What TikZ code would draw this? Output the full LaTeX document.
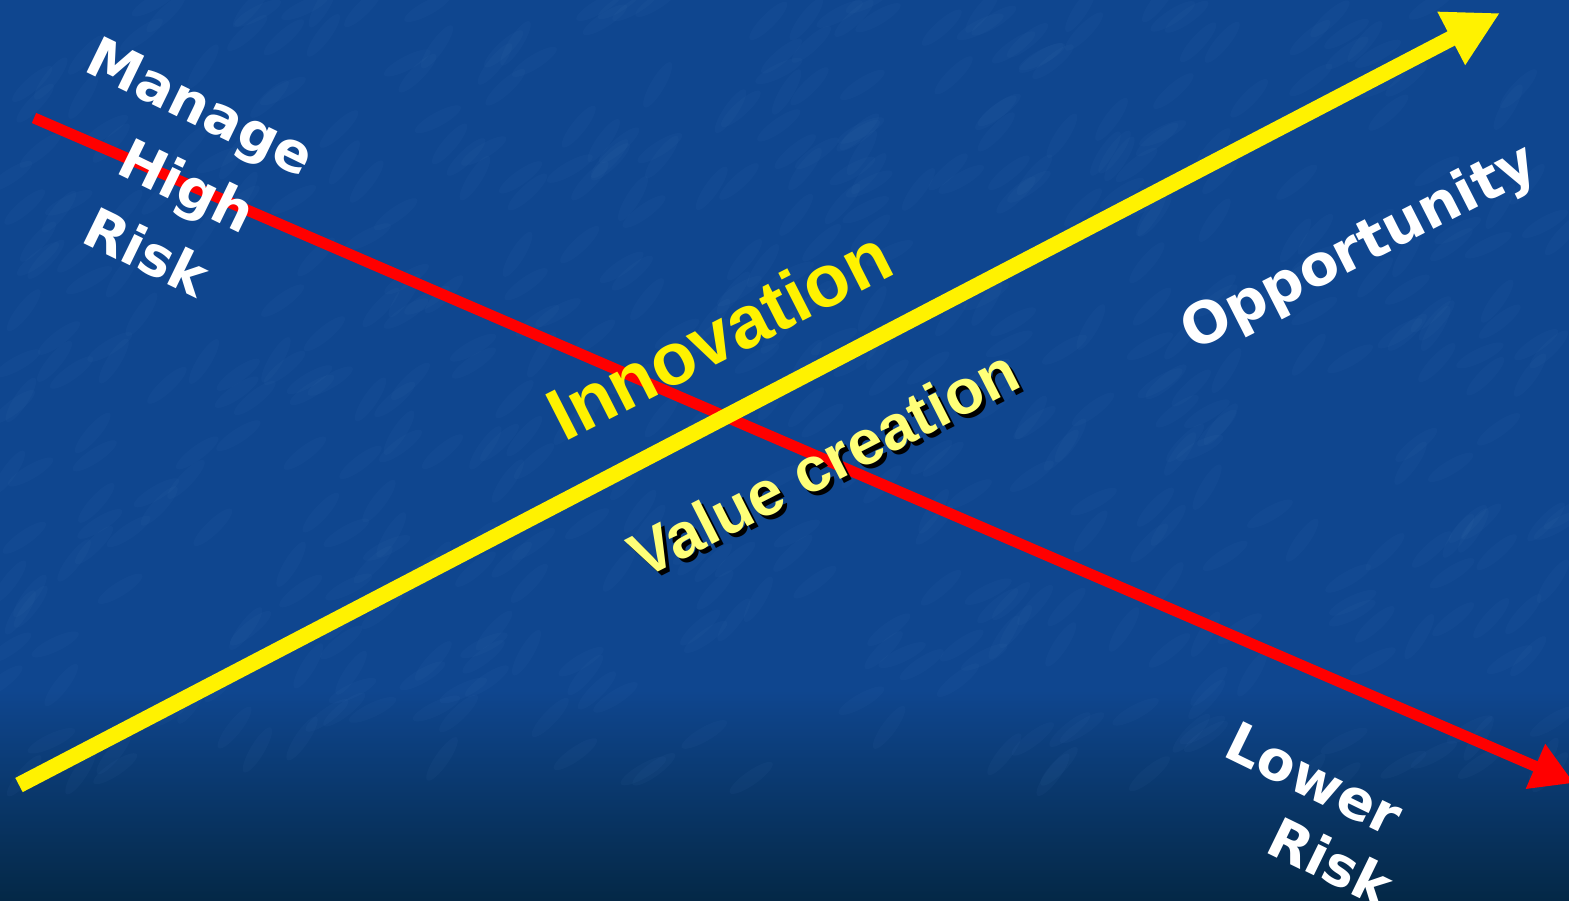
\documentclass[tikz,border=0pt]{standalone}
\usepackage{fontspec}
\newfontfamily\wordfont{DejaVu Sans}
\newfontfamily\headfont{Liberation Sans}
\usetikzlibrary{arrows.meta}

\definecolor{slideblue}{RGB}{15,70,143}
\definecolor{slidedark}{RGB}{4,40,70}
\definecolor{speckle}{RGB}{80,130,195}
\definecolor{paleyellow}{RGB}{255,255,120}

\tikzset{
  riskword/.style={white,inner sep=0pt,anchor=base west,
    font=\wordfont\bfseries\fontsize{55}{62}\selectfont},
  bigword/.style={inner sep=0pt,anchor=base west,
    font=\headfont\bfseries\fontsize{74}{80}\selectfont},
  valueword/.style={inner sep=0pt,anchor=base west,
    font=\headfont\bfseries\fontsize{63}{70}\selectfont},
  uparrow/.style={draw=yellow,line width=16pt,
    -{Triangle[length=55pt,width=56pt,fill=yellow]}},
  downarrow/.style={draw=red,line width=11pt,
    -{Triangle[length=42pt,width=46pt,fill=red]}}
}

\begin{document}
\begin{tikzpicture}[x=1pt,y=-1pt]
  \useasboundingbox (0,0) rectangle (1569,901);
  % backdrop, darker towards the bottom
  \fill[slideblue] (0,0) rectangle (1569,901);
  \shade[top color=slideblue,bottom color=slidedark] (0,690) rectangle (1569,901);
  % soft mottled texture
  \pgfmathsetseed{11}
  \foreach \i in {1,...,520}{
    \pgfmathsetmacro\sx{1569*rnd}
    \pgfmathsetmacro\sy{780*rnd}
    \pgfmathsetmacro\sa{25+35*rnd}
    \fill[speckle,opacity=0.06,rotate around={\sa:(\sx,\sy)}]
      (\sx,\sy) ellipse [x radius=26pt,y radius=7pt];
  }

  % end points of the two arrows
  \coordinate (optail) at (19,785);
  \coordinate (optip) at (1500,13);
  \coordinate (risktail) at (34,118);
  \coordinate (risktip) at (1574,783);

  \draw[downarrow] (risktail) -- (risktip);
  \draw[uparrow] (optail) -- (optip);

  % labels
  \node[riskword,rotate=-26] (manage) at (82,70) {Manage};
  \node[riskword,rotate=-26] (high) at (114,172) {High};
  \node[riskword,rotate=-26] (risk) at (79,241) {Risk};
  \node[riskword,rotate=-26] (lower) at (1221,755) {Lower};
  \node[riskword,rotate=-26] (lowrisk) at (1263,851) {Risk};
  \node[riskword,rotate=27,font=\wordfont\bfseries\fontsize{57}{64}\selectfont]
    (opp) at (1193,352) {Opportunity};

  \node[bigword,yellow,rotate=27] (innov) at (564,443) {Innovation};
  \node[valueword,black,rotate=27] (valshadow) at (647,584) {Value creation};
  \node[valueword,paleyellow,rotate=27] (value) at (643,580) {Value creation};
\end{tikzpicture}
\end{document}
